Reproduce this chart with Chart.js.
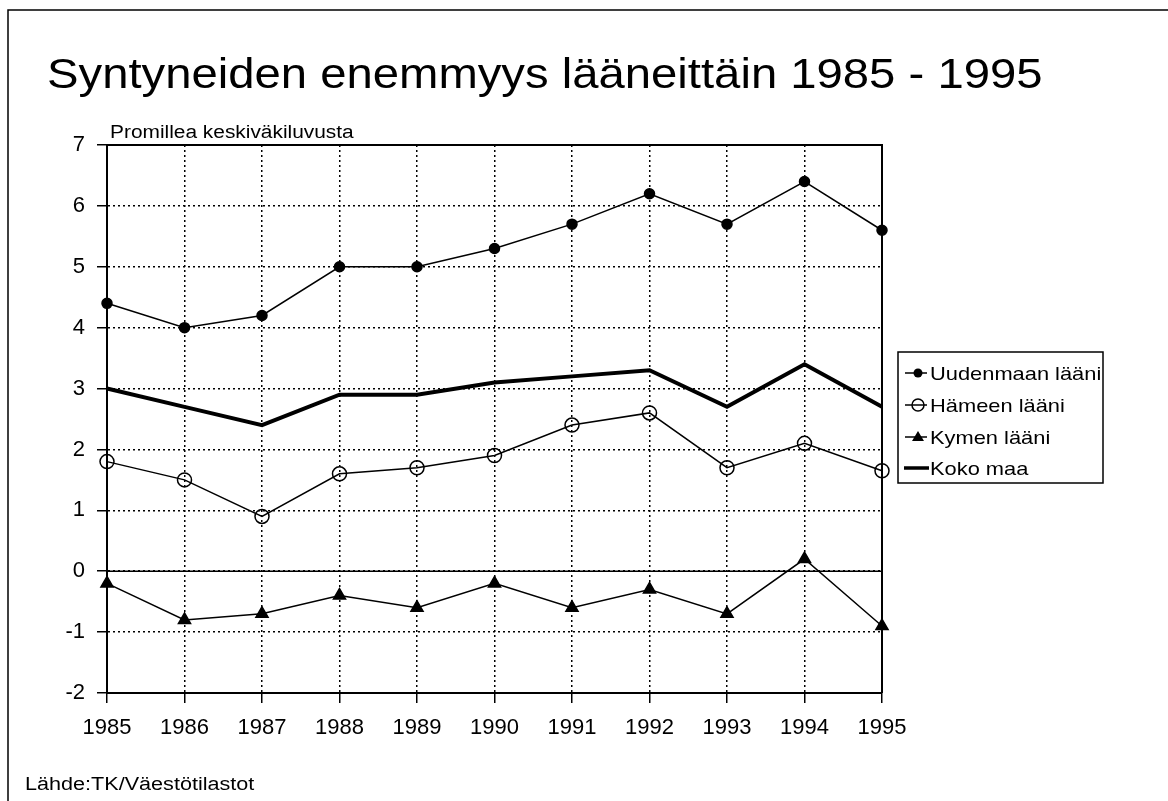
<!DOCTYPE html>
<html lang="fi">
<head>
<meta charset="utf-8">
<title>Syntyneiden enemmyys lääneittäin 1985 - 1995</title>
<script src="https://cdn.jsdelivr.net/npm/chart.js@4.4.1/dist/chart.umd.min.js"></script>
<style>
  html, body { margin: 0; padding: 0; background: #fff; }
  #wrap { position: relative; width: 1168px; height: 801px; }
  canvas { display: block; }
</style>
</head>
<body>
<div id="wrap"><canvas id="chart" width="1168" height="801"></canvas></div>
<script>
// Vuodet ja sarjat (promillea keskiväkiluvusta)
const years = ['1985', '1986', '1987', '1988', '1989', '1990', '1991', '1992', '1993', '1994', '1995'];
const uudenmaa = [4.4, 4.0, 4.2, 5.0, 5.0, 5.3, 5.7, 6.2, 5.7, 6.4, 5.6];
const hame = [1.8, 1.5, 0.9, 1.6, 1.7, 1.9, 2.4, 2.6, 1.7, 2.1, 1.65];
const kymi = [-0.2, -0.8, -0.7, -0.4, -0.6, -0.2, -0.6, -0.3, -0.7, 0.2, -0.9];
const kokoMaa = [3.0, 2.7, 2.4, 2.9, 2.9, 3.1, 3.2, 3.3, 2.7, 3.4, 2.7];
const seriesNames = ['Uudenmaan lääni', 'Hämeen lääni', 'Kymen lääni', 'Koko maa'];
const yMin = -2;
const yMax = 7;

const titleText = 'Syntyneiden enemmyys lääneittäin 1985 - 1995';
const unitText = 'Promillea keskiväkiluvusta';
const sourceText = 'Lähde:TK/Väestötilastot';

const FONT = '"Liberation Sans", Arial, sans-serif';

// teksti vaakasuunnassa venytettynä (skannattu fontti on leveämpi)
function stretchText(ctx, text, x, y, size, sx) {
  ctx.save();
  ctx.font = `${size}px ${FONT}`;
  ctx.fillStyle = '#000';
  ctx.textBaseline = 'alphabetic';
  ctx.textAlign = 'left';
  ctx.translate(x, y);
  ctx.scale(sx, 1);
  ctx.fillText(text, 0, 0);
  ctx.restore();
}

function legendMarker(ctx, kind, x, y) {
  ctx.save();
  ctx.strokeStyle = '#000';
  ctx.fillStyle = '#000';
  if (kind === 'thick') {
    ctx.lineWidth = 3.5;
    ctx.beginPath(); ctx.moveTo(x - 14, y); ctx.lineTo(x + 11, y); ctx.stroke();
    ctx.restore();
    return;
  }
  ctx.lineWidth = 1.5;
  ctx.beginPath(); ctx.moveTo(x - 13, y); ctx.lineTo(x + 9, y); ctx.stroke();
  ctx.beginPath();
  if (kind === 'dot') {
    ctx.arc(x, y, 4.5, 0, Math.PI * 2); ctx.fill();
  } else if (kind === 'ring') {
    ctx.arc(x, y, 6, 0, Math.PI * 2); ctx.stroke();
  } else if (kind === 'tri') {
    ctx.moveTo(x, y - 6); ctx.lineTo(x + 6, y + 4); ctx.lineTo(x - 6, y + 4); ctx.closePath(); ctx.fill();
  }
  ctx.restore();
}

const decor = {
  id: 'decor',
  beforeDatasetsDraw(chart) {
    const { ctx, chartArea, scales } = chart;
    ctx.save();
    ctx.strokeStyle = '#000';
    // kuvaajan yläreuna ja oikea reuna
    ctx.lineWidth = 2;
    ctx.beginPath();
    ctx.moveTo(chartArea.left, chartArea.top);
    ctx.lineTo(chartArea.right, chartArea.top);
    ctx.lineTo(chartArea.right, chartArea.bottom);
    ctx.stroke();
    // nollaviiva
    const y0 = scales.y.getPixelForValue(0);
    ctx.lineWidth = 1.5;
    ctx.beginPath();
    ctx.moveTo(chartArea.left, y0);
    ctx.lineTo(chartArea.right, y0);
    ctx.stroke();
    ctx.restore();
  },
  afterDraw(chart) {
    const { ctx } = chart;
    ctx.save();
    // kehys
    ctx.strokeStyle = '#000';
    ctx.lineWidth = 1.5;
    ctx.beginPath();
    ctx.moveTo(8, 801);
    ctx.lineTo(8, 10);
    ctx.lineTo(1168, 10);
    ctx.stroke();
    ctx.restore();

    stretchText(ctx, titleText, 47, 88, 42, 1.125);
    stretchText(ctx, unitText, 110, 138, 18, 1.16);
    stretchText(ctx, sourceText, 25, 790, 18, 1.2);

    // selite
    ctx.save();
    ctx.strokeStyle = '#000';
    ctx.lineWidth = 1.5;
    ctx.strokeRect(898, 352, 205, 131);
    ctx.restore();
    const kinds = ['dot', 'ring', 'tri', 'thick'];
    const rows = [373, 405, 437, 468];
    seriesNames.forEach((name, i) => {
      legendMarker(ctx, kinds[i], 918, rows[i]);
      stretchText(ctx, name, 930, rows[i] + 7, 19, 1.15);
    });
  }
};

const axisCommon = {
  grid: { color: '#000', lineWidth: 1.5, drawTicks: true, tickLength: 10, tickColor: '#000', tickWidth: 1.5 },
  border: { display: true, color: '#000', width: 2, dash: [2, 3] },
};

new Chart(document.getElementById('chart'), {
  type: 'line',
  data: {
    labels: years,
    datasets: [
      { label: seriesNames[0], data: uudenmaa, borderColor: '#000', borderWidth: 1.5,
        pointStyle: 'circle', pointRadius: 5, pointBackgroundColor: '#000', pointBorderColor: '#000', clip: false },
      { label: seriesNames[1], data: hame, borderColor: '#000', borderWidth: 1.5,
        pointStyle: 'circle', pointRadius: 7, pointBackgroundColor: 'rgba(0,0,0,0)', pointBorderColor: '#000', pointBorderWidth: 1.5, clip: false },
      { label: seriesNames[2], data: kymi, borderColor: '#000', borderWidth: 1.5,
        pointStyle: 'triangle', pointRadius: 7, pointBackgroundColor: '#000', pointBorderColor: '#000', clip: false },
      { label: seriesNames[3], data: kokoMaa, borderColor: '#000', borderWidth: 4, pointRadius: 0, clip: false },
    ],
  },
  options: {
    responsive: false,
    animation: false,
    devicePixelRatio: 1,
    layout: { padding: { left: 47, top: 145, right: 286, bottom: 58 } },
    plugins: { legend: { display: false }, tooltip: { enabled: false }, title: { display: false } },
    elements: { line: { tension: 0 } },
    scales: {
      x: {
        ...axisCommon,
        offset: false,
        ticks: { color: '#000', font: { family: FONT, size: 22 }, padding: 12, autoSkip: false, maxRotation: 0 },
        afterFit: s => { s.height = 50; },
      },
      y: {
        ...axisCommon,
        min: yMin,
        max: yMax,
        ticks: { stepSize: 1, color: '#000', font: { family: FONT, size: 22 }, padding: 12 },
        afterFit: s => { s.width = 60; },
      },
    },
  },
  plugins: [decor],
});
</script>
</body>
</html>
